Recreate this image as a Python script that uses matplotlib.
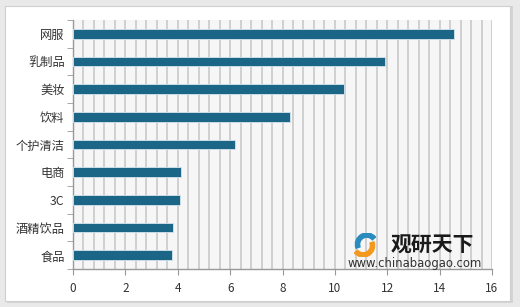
import numpy as np
import matplotlib.pyplot as plt
from matplotlib.patches import Rectangle, Wedge
from matplotlib.ticker import MultipleLocator

plt.rcParams['font.family'] = ['Noto Sans CJK SC', 'DejaVu Sans']

categories = ['网服', '乳制品', '美妆', '饮料', '个护清洁', '电商', '3C', '酒精饮品', '食品']
values = [14.53, 11.90, 10.33, 8.27, 6.17, 4.13, 4.09, 3.82, 3.77]
xticks = [0, 2, 4, 6, 8, 10, 12, 14, 16]

fig = plt.figure(figsize=(5.2, 3.07), dpi=100)
fig.patch.set_facecolor('#e9e9e9')

# white panel with shadowed border
fig.patches.append(Rectangle((7 / 520, 4 / 307), 506 / 520, 297 / 307, transform=fig.transFigure,
                             facecolor='#d4d4d4', edgecolor='none', zorder=-2))
fig.patches.append(Rectangle((5 / 520, 6 / 307), 505 / 520, 295 / 307, transform=fig.transFigure,
                             facecolor='white', edgecolor='#cfcfcf', linewidth=0.8, zorder=-1))

ax = fig.add_axes([73 / 520, 1 - 269 / 307, (492 - 73) / 520, (269 - 20) / 307])
ax.set_facecolor('#f6f6f6')

y = np.arange(len(categories))
ax.barh(y, values, height=0.34, color='#1b6587', edgecolor='#d6e6ef', linewidth=0.6, zorder=3)

ax.set_xlim(0, 16)
ax.set_ylim(len(categories) - 0.5, -0.5)
ax.set_xticks(xticks)
ax.set_xticklabels([str(t) for t in xticks], fontsize=8.5, color='#333333')
ax.xaxis.set_minor_locator(MultipleLocator(0.4))
ax.grid(which='both', axis='x', color='#cccccc', linewidth=1.3, zorder=1)
ax.set_axisbelow(True)

ax.set_yticks(y)
ax.set_yticklabels(categories, fontsize=8.8, color='#333333')
ax.yaxis.set_minor_locator(plt.FixedLocator(np.arange(-0.5, len(categories), 1)))
ax.tick_params(axis='y', which='major', length=0, pad=6)
ax.tick_params(axis='y', which='minor', length=4, color='#999999', direction='out')
ax.tick_params(axis='x', which='major', length=4, color='#999999', pad=5)
ax.tick_params(axis='x', which='minor', length=0)

for s in ['top', 'right']:
    ax.spines[s].set_visible(False)
for s in ['left', 'bottom']:
    ax.spines[s].set_color('#999999')
    ax.spines[s].set_linewidth(1.0)

# watermark
fig.text(391 / 520, 1 - 245 / 307, '观研天下', fontsize=15, fontweight='bold', color='#1a1a1a',
         ha='left', va='center', zorder=6)
fig.text(348 / 520, 1 - 263 / 307, 'www.chinabaogao.com', fontsize=8.4, color='#333333',
         ha='left', va='center', family='DejaVu Sans', zorder=6)
logo = fig.add_axes([348 / 520, 1 - 257 / 307, 34 / 520, 24 / 307])
logo.set_xlim(-1.4, 1.4)
logo.set_ylim(-1, 1)
logo.set_aspect('equal')
logo.axis('off')
logo.add_patch(Wedge((0.15, 0.05), 0.95, 40, 200, width=0.35, color='#2a8bbf'))
logo.add_patch(Wedge((-0.15, -0.05), 0.95, 220, 380, width=0.35, color='#f39a1e'))

fig.savefig('out.png', dpi=100, facecolor=fig.get_facecolor())
